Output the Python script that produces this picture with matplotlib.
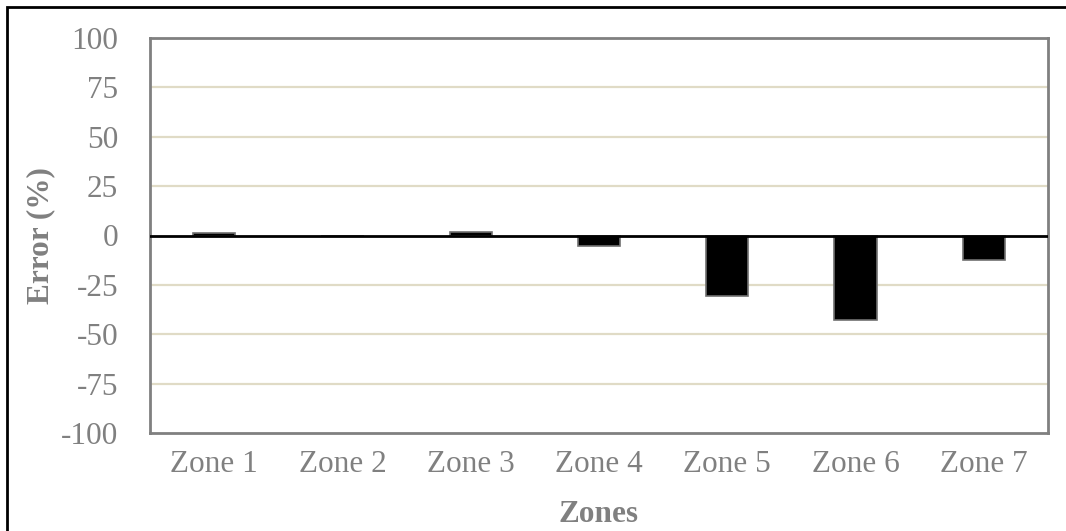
import matplotlib.pyplot as plt
import numpy as np
from matplotlib.patches import Rectangle

zones = ['Zone 1', 'Zone 2', 'Zone 3', 'Zone 4', 'Zone 5', 'Zone 6', 'Zone 7']
error_pct = [1.2, 0.0, 2.0, -5.5, -30.5, -43.0, -12.5]
y_ticks = [-100, -75, -50, -25, 0, 25, 50, 75, 100]

plt.rcParams['font.family'] = ['Liberation Serif', 'DejaVu Serif']
grey = '#808080'
fs = 22.5

fig = plt.figure(figsize=(10.66, 5.31), dpi=100)
ax = fig.add_axes([150 / 1066, 1 - 433 / 531, 898 / 1066, 395 / 531])

x = np.arange(len(zones))
# grid lines behind the bars
for v in y_ticks:
    if v not in (0, -100, 100):
        ax.axhline(v, color='#e0dbc6', lw=1.6, zorder=0)
ax.bar(x, error_pct, width=0.33, color='black', edgecolor='#707070', linewidth=1.2, zorder=2)
ax.axhline(0, color='black', lw=2, zorder=3)

ax.set_xlim(-0.5, len(zones) - 0.5)
ax.set_ylim(-100, 100)
ax.set_yticks(y_ticks)
ax.set_yticklabels([str(v) for v in y_ticks])
ax.set_xticks(x)
ax.set_xticklabels(zones)
ax.tick_params(axis='y', length=0, pad=23, labelsize=fs, labelcolor=grey)
ax.tick_params(axis='x', length=0, pad=12, labelsize=fs, labelcolor=grey)

for s in ax.spines.values():
    s.set_color(grey)
    s.set_linewidth(2)

ax.set_xlabel('Zones', fontsize=fs, fontweight='bold', color=grey, labelpad=15)
ax.set_ylabel('Error (%)', fontsize=fs, fontweight='bold', color=grey, labelpad=4)

# outer frame of the figure
fig.patches.append(Rectangle((7 / 1066, -0.05), 1.1, 1 - 7 / 531 + 0.05,
                             transform=fig.transFigure, fill=False,
                             edgecolor='black', lw=2))

fig.savefig('out.png', dpi=100)
